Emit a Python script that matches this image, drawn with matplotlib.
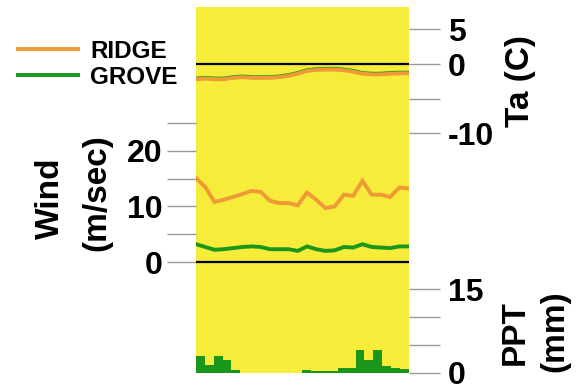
import matplotlib
matplotlib.use("Agg")
import matplotlib.pyplot as plt
import numpy as np

plt.rcParams['font.family'] = ['Liberation Sans', 'DejaVu Sans']
plt.rcParams['font.weight'] = 'bold'

# hourly values
hours = np.arange(24)
ridge_ta = [-2.2, -2.1, -2.2, -2.2, -2.0, -1.9, -2.0, -2.0, -2.0, -1.9, -1.7, -1.4,
            -1.0, -0.85, -0.8, -0.8, -0.9, -1.1, -1.4, -1.5, -1.5, -1.4, -1.35, -1.35]
grove_ta = [-2.1, -2.0, -2.1, -2.1, -1.9, -1.8, -1.9, -1.9, -1.9, -1.8, -1.6, -1.3,
            -0.9, -0.75, -0.7, -0.7, -0.8, -1.0, -1.3, -1.4, -1.4, -1.3, -1.25, -1.25]
ridge_wind = [15.1, 13.5, 10.8, 11.2, 11.7, 12.2, 12.8, 12.6, 11.0, 10.6, 10.6, 10.2,
              12.5, 11.2, 9.7, 10.0, 12.1, 11.9, 14.6, 12.1, 12.1, 11.7, 13.4, 13.2]
grove_wind = [3.2, 2.7, 2.2, 2.3, 2.5, 2.7, 2.8, 2.7, 2.3, 2.3, 2.3, 2.0,
              2.8, 2.3, 2.0, 2.1, 2.7, 2.6, 3.2, 2.7, 2.6, 2.5, 2.8, 2.8]
ppt = [3.0, 1.4, 3.0, 2.3, 0.5, 0, 0, 0, 0, 0, 0, 0,
       0.5, 0.25, 0.25, 0.25, 0.85, 0.85, 4.0, 2.3, 4.0, 1.25, 0.9, 0.6]

ta_ticks = [5, 0, -5, -10]
ta_labels = ['5', '0', '', '-10']
wind_ticks = [0, 5, 10, 15, 20, 25]
wind_labels = ['0', '', '10', '', '20', '']
ppt_ticks = [0, 5, 10, 15]
ppt_labels = ['0', '', '', '15']

YELLOW = '#f7ec3a'
ORANGE = '#ee9a36'
GREEN = '#1a961a'
TICK = '#999999'

W, H = 577, 390
fig = plt.figure(figsize=(W / 100, H / 100), dpi=100)

# panel rect in pixels
px0, px1, py0, py1 = 196, 408.7, 7, 372.7
rect = [px0 / W, 1 - py1 / H, (px1 - px0) / W, (py1 - py0) / H]

bg = fig.add_axes(rect)
bg.set_facecolor(YELLOW)
bg.set_xticks([])
bg.set_yticks([])
for s in bg.spines.values():
    s.set_visible(False)


def overlay(ylim):
    ax = fig.add_axes(rect, sharex=bg)
    ax.patch.set_visible(False)
    ax.set_ylim(*ylim)
    for s in ax.spines.values():
        s.set_visible(False)
    ax.tick_params(axis='x', which='both', bottom=False, labelbottom=False)
    return ax


# temperature: 0 at y=64 px, 6.93 px per degree
ta_scale = 6.93
ax_ta = overlay(((64 - py1) / ta_scale, (64 - py0) / ta_scale))
# wind: 0 at y=262 px, 5.56 px per m/s
w_scale = 5.56
ax_w = overlay(((262 - py1) / w_scale, (262 - py0) / w_scale))
# precipitation: 0 at the bottom, 5.56 px per mm
p_scale = 5.56
ax_p = overlay((0, (py1 - py0) / p_scale))

bg.set_xlim(0, 23)

edges = np.linspace(0, 23, 25)
ax_p.stairs(ppt, edges, fill=True, color=GREEN, lw=0)

ax_w.axhline(0, color='black', lw=1.6)
ax_w.plot(hours, grove_wind, color=GREEN, lw=2.8, solid_joinstyle='miter')
ax_w.plot(hours, ridge_wind, color=ORANGE, lw=2.8, solid_joinstyle='miter')

ax_ta.axhline(0, color='black', lw=1.6)
l_grove, = ax_ta.plot(hours, grove_ta, color=GREEN, lw=2.8, label='GROVE')
l_ridge, = ax_ta.plot(hours, ridge_ta, color=ORANGE, lw=2.8, label='RIDGE')

tick_kw = dict(color=TICK, width=1.0, labelsize=23)
ax_ta.yaxis.tick_right()
ax_ta.set_yticks(ta_ticks, ta_labels)
ax_ta.tick_params(axis='y', length=22, pad=6, **tick_kw)

ax_w.set_yticks(wind_ticks, wind_labels)
ax_w.tick_params(axis='y', length=21, pad=3, **tick_kw)

ax_p.yaxis.tick_right()
ax_p.set_yticks(ppt_ticks, ppt_labels)
ax_p.tick_params(axis='y', length=22, pad=6, **tick_kw)

lab = dict(rotation=90, ha='center', va='center', fontsize=24, weight='bold')
fig.text(521 / W, 1 - 81 / H, 'Ta (C)', **lab)
fig.text(50 / W, 1 - 198 / H, 'Wind', **lab)
fig.text(97 / W, 1 - 193 / H, '(m/sec)', **lab)
fig.text(515 / W, 1 - 333 / H, 'PPT', **lab)
fig.text(555 / W, 1 - 331 / H, '(mm)', **lab)

leg = fig.legend(handles=[l_ridge, l_grove], loc='upper left',
                 bbox_to_anchor=(18 / W, 1 - 40 / H), frameon=False,
                 fontsize=17.5, handlelength=2.47, handletextpad=0.5,
                 labelspacing=0.12, borderpad=0, borderaxespad=0)
for t in leg.get_texts():
    t.set_fontweight('bold')

fig.savefig('out.png', dpi=100, facecolor='white')
